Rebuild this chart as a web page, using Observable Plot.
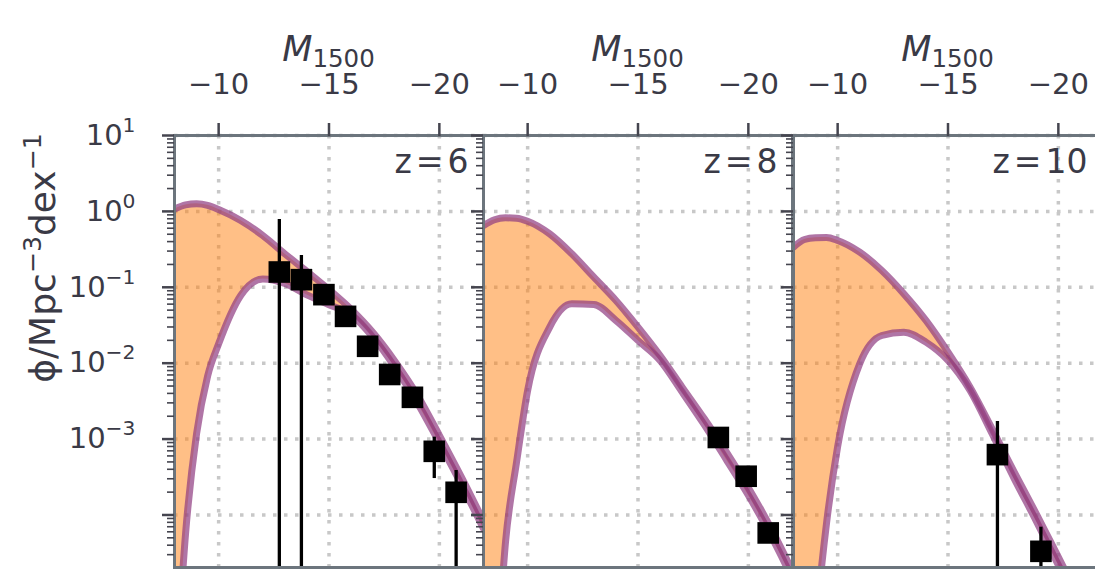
<!DOCTYPE html>
<html>
<head>
<meta charset="utf-8">
<script src="https://cdn.jsdelivr.net/npm/d3@7"></script>
<script src="https://cdn.jsdelivr.net/npm/@observablehq/plot@0.6"></script>
<style>
html, body { margin: 0; padding: 0; background: #fff; overflow: hidden; }
#chart { position: relative; width: 1095px; height: 569px; overflow: hidden; font-family: "DejaVu Sans"; }
#chart svg { position: absolute; top: 0; }
</style>
</head>
<body>
<div id="chart"></div>
<script>
// ---- data (log10 phi for model curves) ----
const mGrid = [-8, -8.5, -9, -9.5, -10, -11, -12, -13, -14, -15, -16, -17, -18, -19, -20, -21, -22];

const upperZ6 = [0.03, 0.085, 0.10, 0.08, 0.025, -0.12, -0.318, -0.56, -0.79, -1.03, -1.29, -1.60, -1.98, -2.42, -2.95, -3.50, -4.08];
const lowerZ6 = [-6.5, -4.25, -2.93, -2.17, -1.745, -1.108, -0.89, -0.95, -1.10, -1.23, -1.36, -1.66, -2.06, -2.52, -3.05, -3.60, -4.18];

const upperZ8 = [-0.186, -0.11, -0.085, -0.09, -0.129, -0.296, -0.559, -0.867, -1.174, -1.525, -1.899, -2.316, -2.73, -3.17, -3.64, -4.16, -4.74];
const lowerZ8 = [-9, -6.5, -4.35, -3.3, -2.36, -1.525, -1.218, -1.227, -1.437, -1.701, -1.964, -2.38, -2.81, -3.27, -3.74, -4.26, -4.84];

const upperZ10 = [-0.471, -0.37, -0.348, -0.345, -0.383, -0.537, -0.779, -1.086, -1.437, -1.855, -2.316, -2.865, -3.436, -3.985, -4.556, -5.13, -5.7];
const lowerZ10 = [-10, -7.5, -5.5, -4.1, -3.1, -2.008, -1.635, -1.591, -1.723, -1.964, -2.36, -2.93, -3.52, -4.08, -4.66, -5.23, -5.8];

// observed points (phi and error-bar ends)
const obsZ6M   = [-12.75, -13.75, -14.77, -15.75, -16.75, -17.75, -18.78, -19.77, -20.76];
const obsZ6Phi = [0.159, 0.126, 0.080, 0.0414, 0.0167, 0.0071, 0.00355, 0.00069, 0.000199];
const obsZ6Hi  = [0.78, 0.262, 0.080, 0.0414, 0.0167, 0.0071, 0.00355, 0.00106, 0.000386];
const obsZ6Lo  = [1e-7, 1e-7, 0.080, 0.0414, 0.0167, 0.0071, 0.00355, 0.000302, 1e-7];

const obsZ8M   = [-18.64, -19.9, -20.9];
const obsZ8Phi = [0.00105, 0.000324, 0.000058];
const obsZ8Hi  = [0.00105, 0.000324, 0.000058];
const obsZ8Lo  = [0.00105, 0.000324, 0.000058];

const obsZ10M   = [-17.24, -19.21];
const obsZ10Phi = [0.000624, 0.0000332];
const obsZ10Hi  = [0.0017, 0.000069];
const obsZ10Lo  = [1e-7, 1e-7];

const zLabels = ["z=6", "z=8", "z=10"];
const xTicks = [-10, -15, -20];
const yMajor = [1e-4, 1e-3, 1e-2, 1e-1, 1, 10];
const yMin = Math.pow(10, -4.692);
const yMax = 10;

// ---- build tables ----
function curveTable(up, lo) {
  return mGrid.map((M, i) => ({M, hi: Math.pow(10, up[i]), lo: Math.pow(10, lo[i])}));
}
function obsTable(M, phi, hi, lo) {
  return M.map((m, i) => ({M: m, phi: phi[i], hi: hi[i], lo: lo[i]}));
}
const panels = [
  {z: zLabels[0], curve: curveTable(upperZ6, lowerZ6), obs: obsTable(obsZ6M, obsZ6Phi, obsZ6Hi, obsZ6Lo)},
  {z: zLabels[1], curve: curveTable(upperZ8, lowerZ8), obs: obsTable(obsZ8M, obsZ8Phi, obsZ8Hi, obsZ8Lo)},
  {z: zLabels[2], curve: curveTable(upperZ10, lowerZ10), obs: obsTable(obsZ10M, obsZ10Phi, obsZ10Hi, obsZ10Lo)}
];

const yMinor = [];
for (let k = -5; k <= 0; k++) for (let m = 2; m <= 9; m++) {
  const v = m * Math.pow(10, k);
  if (v > yMin && v < yMax) yMinor.push(v);
}

const TXT = "#3a3a46";
const FRAME = "#6c757d";
const TICK = "#45454f";
const LINE = "#8e3a80";
const PW = 309;            // panel width
const panelLeft = [174, 483, 793];
const SUP = 0.7;
const TFS = 29;            // tick font size

const container = document.getElementById("chart");

panels.forEach((p, i) => {
  const mL = i === 0 ? 174 : 30;
  const mR = 4;
  const svg = Plot.plot({
    width: mL + PW + mR,
    height: 569,
    marginLeft: mL, marginRight: mR, marginTop: 135, marginBottom: 2,
    style: {background: "transparent", fontFamily: "DejaVu Sans", fontSize: TFS + "px", color: TXT, overflow: "visible", maxWidth: "none"},
    x: {domain: [-8, -22], axis: null},
    y: {type: "log", domain: [yMin, yMax], axis: null},
    marks: [
      Plot.gridX(xTicks, {stroke: "#c8c8c8", strokeOpacity: 1, strokeWidth: 3.5, strokeDasharray: "3.5,7.5"}),
      Plot.gridY(yMajor, {stroke: "#c8c8c8", strokeOpacity: 1, strokeWidth: 3.5, strokeDasharray: "3.5,7.5"}),
      Plot.areaY(p.curve, {x: "M", y1: "lo", y2: "hi", fill: "#ff7f0e", fillOpacity: 0.5, curve: "monotone-x", clip: true}),
      Plot.line(p.curve, {x: "M", y: "hi", stroke: LINE, strokeOpacity: 0.7, strokeWidth: 7, curve: "monotone-x", clip: true}),
      Plot.line(p.curve, {x: "M", y: "lo", stroke: LINE, strokeOpacity: 0.7, strokeWidth: 7, curve: "monotone-x", clip: true}),
      Plot.ruleX(p.obs, {x: "M", y1: "lo", y2: "hi", stroke: "black", strokeWidth: 3.3, clip: true}),
      Plot.dot(p.obs, {x: "M", y: "phi", symbol: "square", r: 12.2, fill: "black", stroke: null}),
      Plot.frame({stroke: FRAME, strokeWidth: 3}),
      Plot.axisX({anchor: "top", ticks: xTicks, tickSize: 13, tickPadding: 29, stroke: TICK, strokeWidth: 2.5,
                  tickFormat: d => "\u2212" + Math.abs(d), label: null, fontSize: TFS, fill: TXT}),
      Plot.axisY({anchor: "left", ticks: yMajor, tickSize: 12, tickPadding: 27, stroke: TICK, strokeWidth: 2.5,
                  tickFormat: d => {
                    if (i !== 0) return "";
                    const e = Math.round(Math.log10(d));
                    return e === -4 ? "" : "10^" + e;
                  }, label: null, fontSize: TFS, fill: TXT}),
      Plot.axisY({anchor: "left", ticks: yMinor, tickSize: 7, stroke: TICK, strokeWidth: 1.6, tickFormat: () => "", label: null}),
      Plot.text([p.z], {frameAnchor: "top-right", dx: -15, dy: 14, lineAnchor: "top", textAnchor: "end", fontSize: 33, fill: TXT})
    ]
  });
  svg.style.left = (panelLeft[i] - mL) + "px";
  const s = d3.select(svg);

  s.selectAll("text").each(function() {
    const t = this.textContent;
    const el = d3.select(this);
    if (t.startsWith("10^")) {
      // power-of-ten tick labels with superscript exponents
      const e = t.slice(3).replace("-", "\u2212");
      el.text(null);
      el.append("tspan").text("10");
      el.append("tspan").attr("font-size", TFS * SUP).attr("dy", -13).text(e);
    } else if (t.startsWith("z=")) {
      // math-style spacing around the relation sign
      el.text(null);
      el.append("tspan").text("z");
      el.append("tspan").attr("dx", 4).text("=");
      el.append("tspan").attr("dx", 4).text(t.slice(2));
    }
  });

  // axis label on top: M_1500
  const cx = mL + PW / 2;
  const lab = s.append("text")
    .attr("x", cx).attr("y", 61)
    .attr("text-anchor", "middle")
    .attr("font-family", "DejaVu Sans")
    .attr("font-size", 35)
    .attr("fill", TXT);
  lab.append("tspan").attr("font-style", "italic").text("M");
  lab.append("tspan").attr("font-size", 35 * SUP).attr("dy", 6).text("1500");

  if (i === 0) {
    const yl = s.append("text")
      .attr("transform", "translate(55,258) rotate(-90)")
      .attr("text-anchor", "middle")
      .attr("font-family", "DejaVu Sans")
      .attr("font-size", 36)
      .attr("fill", TXT);
    yl.append("tspan").text("\u03d5/Mpc");
    yl.append("tspan").attr("font-size", 36 * SUP).attr("dy", -14).text("\u22123");
    yl.append("tspan").attr("dy", 14).text("dex");
    yl.append("tspan").attr("font-size", 36 * SUP).attr("dy", -14).text("\u22121");
  }
  container.appendChild(svg);
});
</script>
</body>
</html>
